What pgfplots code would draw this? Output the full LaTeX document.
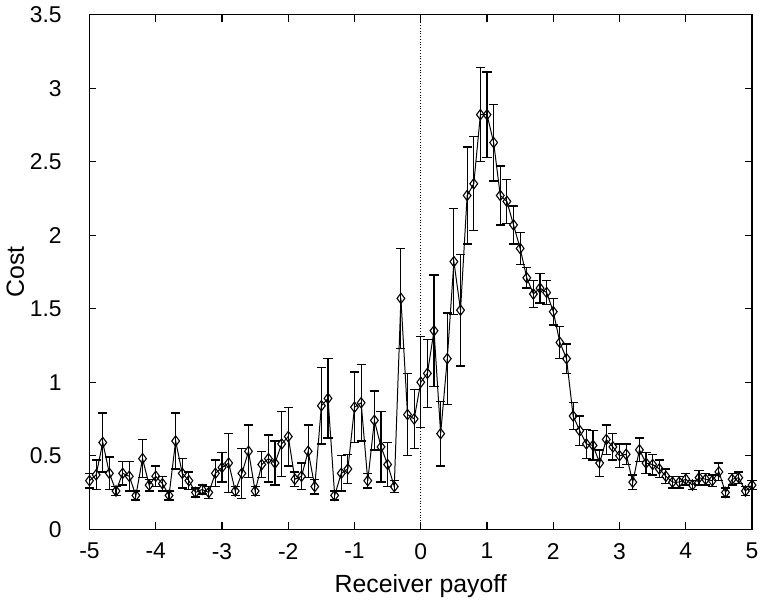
\documentclass[border=0pt]{standalone}
\usepackage{fontspec}
\setmainfont{Liberation Sans}
\usepackage{pgfplots}
\usepackage{pgfplotstable}
\pgfplotsset{compat=1.18}
\pgfplotstableread{
x y e
-5.0 0.33 0.05
-4.9 0.37 0.10
-4.8 0.59 0.20
-4.7 0.38 0.11
-4.6 0.26 0.03
-4.5 0.38 0.08
-4.4 0.36 0.10
-4.3 0.23 0.03
-4.2 0.48 0.13
-4.1 0.30 0.04
-4.0 0.36 0.07
-3.9 0.31 0.05
-3.8 0.23 0.03
-3.7 0.60 0.19
-3.6 0.38 0.10
-3.5 0.33 0.06
-3.4 0.25 0.03
-3.3 0.27 0.03
-3.2 0.25 0.04
-3.1 0.38 0.09
-3.0 0.42 0.10
-2.9 0.45 0.20
-2.8 0.26 0.03
-2.7 0.38 0.17
-2.6 0.53 0.18
-2.5 0.26 0.03
-2.4 0.44 0.09
-2.3 0.48 0.16
-2.2 0.45 0.15
-2.1 0.58 0.22
-2.0 0.63 0.20
-1.9 0.34 0.05
-1.8 0.36 0.09
-1.7 0.53 0.18
-1.6 0.29 0.05
-1.5 0.84 0.26
-1.4 0.89 0.27
-1.3 0.23 0.03
-1.2 0.38 0.12
-1.1 0.41 0.10
-1.0 0.83 0.24
-0.9 0.86 0.26
-0.8 0.33 0.05
-0.7 0.74 0.20
-0.6 0.56 0.24
-0.5 0.44 0.15
-0.4 0.29 0.04
-0.3 1.57 0.34
-0.2 0.78 0.28
-0.1 0.75 0.20
0.0 1.00 0.31
0.1 1.06 0.23
0.2 1.35 0.38
0.3 0.65 0.22
0.4 1.16 0.31
0.5 1.82 0.36
0.6 1.49 0.38
0.7 2.27 0.33
0.8 2.35 0.32
0.9 2.82 0.32
1.0 2.82 0.29
1.1 2.63 0.26
1.2 2.27 0.20
1.3 2.23 0.15
1.4 2.07 0.13
1.5 1.91 0.11
1.6 1.71 0.07
1.7 1.60 0.09
1.8 1.64 0.10
1.9 1.61 0.08
2.0 1.48 0.09
2.1 1.27 0.11
2.2 1.16 0.10
2.3 0.77 0.09
2.4 0.67 0.10
2.5 0.58 0.10
2.6 0.57 0.10
2.7 0.45 0.09
2.8 0.61 0.10
2.9 0.56 0.09
3.0 0.50 0.08
3.1 0.51 0.07
3.2 0.32 0.05
3.3 0.54 0.08
3.4 0.45 0.07
3.5 0.44 0.07
3.6 0.41 0.06
3.7 0.36 0.05
3.8 0.32 0.04
3.9 0.32 0.04
4.0 0.34 0.04
4.1 0.30 0.03
4.2 0.35 0.05
4.3 0.34 0.04
4.4 0.33 0.04
4.5 0.39 0.06
4.6 0.25 0.03
4.7 0.34 0.04
4.8 0.35 0.04
4.9 0.26 0.03
5.0 0.30 0.03
}\datatable
\begin{document}
\begin{tikzpicture}
\begin{axis}[
  scale only axis,
  width=333.5pt, height=259pt,
  xmin=-5, xmax=5, ymin=0, ymax=3.5,
  xtick={-5,-4,...,5},
  ytick={0,0.5,1,1.5,2,2.5,3,3.5},
  yticklabels={0,0.5,1,1.5,2,2.5,3,3.5},
  tick align=inside,
  major tick length=3.5pt,
  axis line style={line width=0.7pt},
  every tick/.style={line width=0.6pt, black},
  /pgf/number format/assume math mode=true,
  tick label style={font=\fontsize{11.5}{13}\selectfont},
  yticklabel style={xshift=-10.5pt},
  xticklabel style={yshift=-3.5pt},
  xlabel={Receiver payoff},
  ylabel={Cost},
  label style={font=\fontsize{12.5}{14}\selectfont},
  xlabel style={yshift=-1pt},
  ylabel style={yshift=-4pt},
  clip=false,
]
\addplot[densely dotted, thin, black] coordinates {(0,0) (0,3.5)};
\addplot[black, line width=0.5pt, mark=diamond, mark size=2.6pt,
  mark options={solid, fill=white, line width=0.55pt},
  error bars/.cd, y dir=both, y explicit,
  error mark=-, error mark options={rotate=90, mark size=2.3pt, line width=0.7pt},
  error bar style={line width=0.6pt}]
  table[x=x, y=y, y error=e] {\datatable};
\end{axis}
\end{tikzpicture}
\end{document}
